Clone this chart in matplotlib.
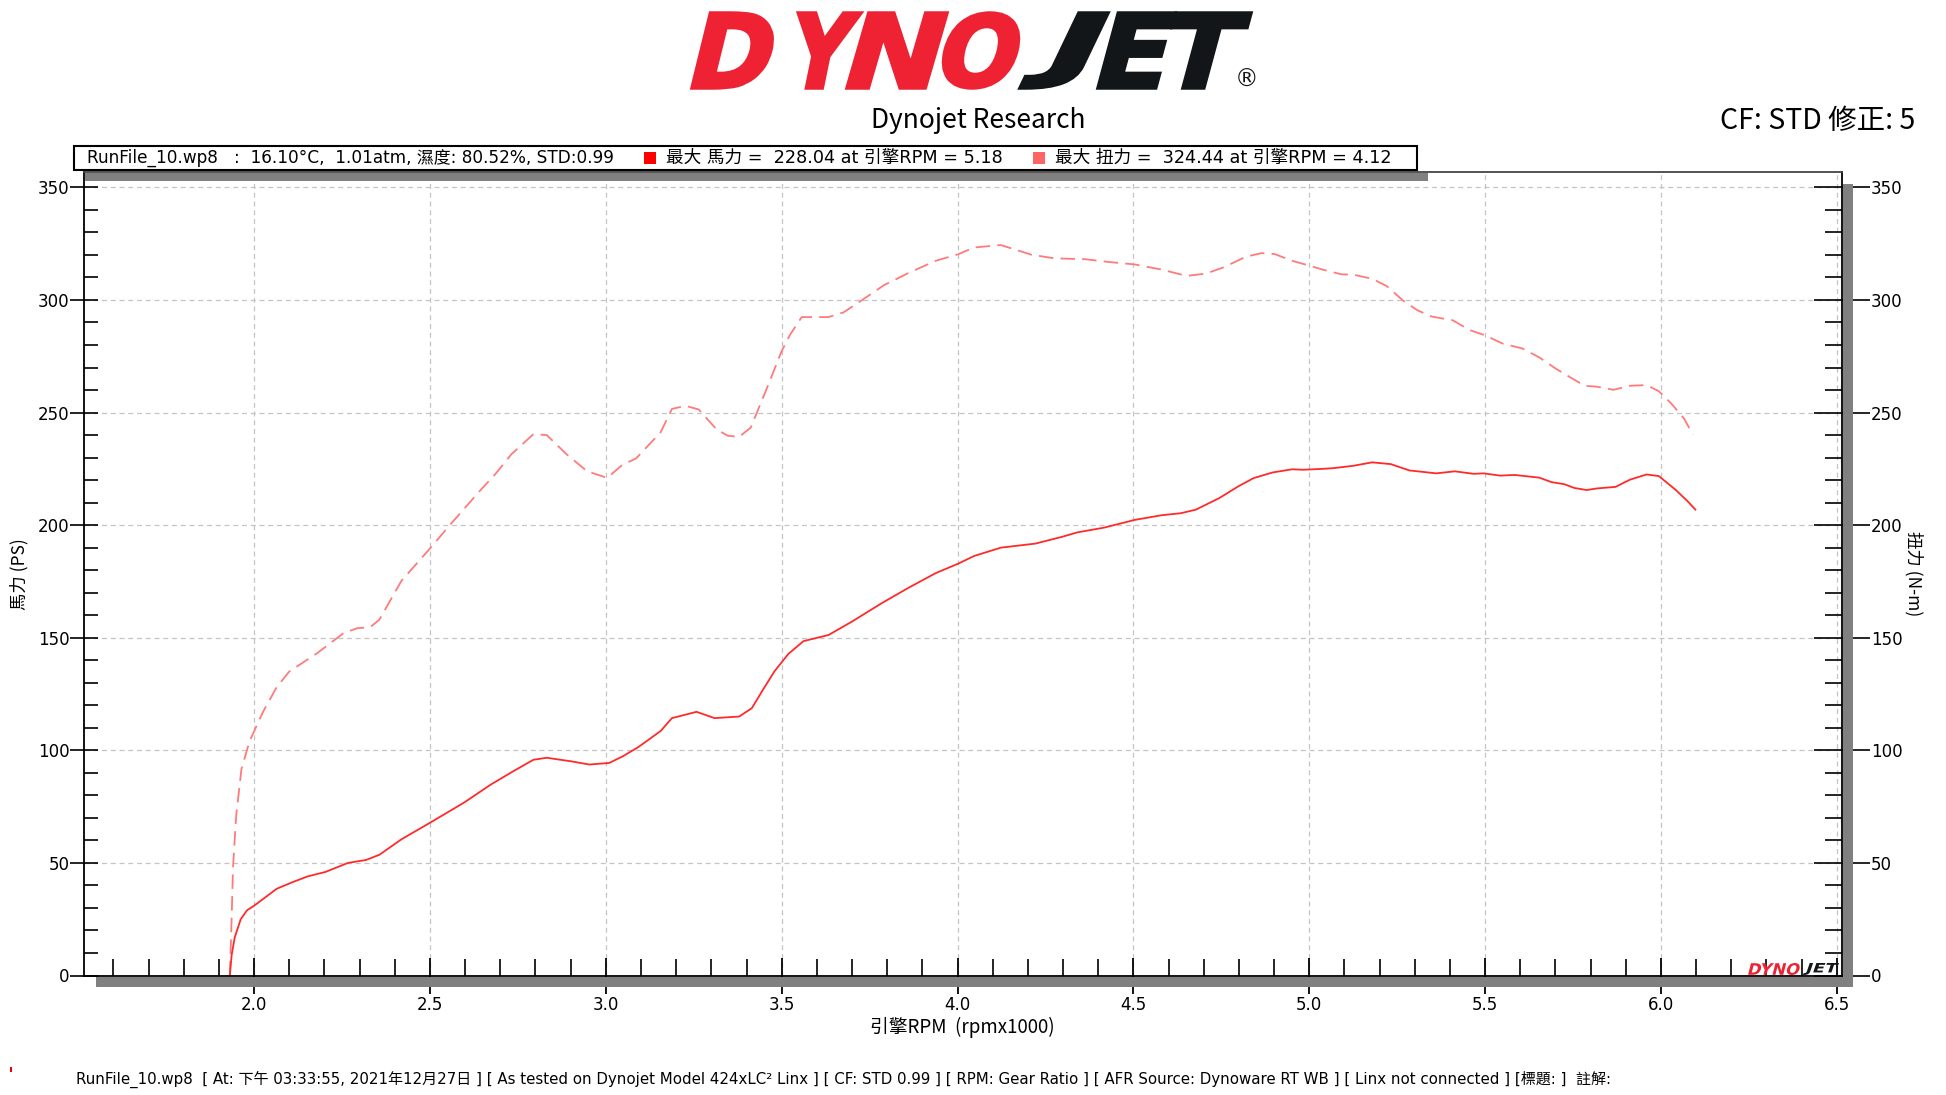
import numpy as np
import matplotlib
matplotlib.use("Agg")
from matplotlib import pyplot as plt
from matplotlib.textpath import TextPath
from matplotlib.font_manager import FontProperties
from matplotlib.patches import PathPatch, Rectangle
from matplotlib.transforms import Affine2D
from matplotlib.ticker import MultipleLocator, FormatStrFormatter

CJK = ['Noto Sans CJK TC', 'DejaVu Sans']
MIX = ['DejaVu Sans', 'Noto Sans CJK TC']

# power curve (PS) vs engine rpm x1000
rpm_hp = [1.931, 1.936, 1.945, 1.962, 1.980, 2.000, 2.030, 2.064, 2.110, 2.152,
          2.203, 2.267, 2.318, 2.356, 2.419, 2.502, 2.597, 2.673, 2.740, 2.794,
          2.832, 2.902, 2.953, 3.010, 3.050, 3.093, 3.156, 3.188, 3.258, 3.309,
          3.379, 3.415, 3.448, 3.480, 3.519, 3.562, 3.633, 3.698, 3.785, 3.862,
          3.938, 4.002, 4.047, 4.123, 4.221, 4.297, 4.341, 4.417, 4.503, 4.580,
          4.635, 4.678, 4.744, 4.798, 4.842, 4.896, 4.951, 4.983, 5.038, 5.068,
          5.127, 5.179, 5.232, 5.285, 5.361, 5.414, 5.467, 5.496, 5.543, 5.584,
          5.654, 5.689, 5.725, 5.754, 5.789, 5.818, 5.871, 5.912, 5.959, 5.994,
          6.041, 6.076, 6.098]
hp = [0, 9, 17, 25, 29, 31, 34.5, 38.5, 41.5, 44,
      46, 50, 51.3, 53.6, 60.5, 68, 76.8, 84.8, 91, 95.8,
      96.7, 95.1, 93.7, 94.4, 97.5, 101.5, 108.6, 114.3, 117.1, 114.3,
      115, 118.7, 127.2, 135.2, 142.8, 148.5, 151.2, 157, 165.4, 172.3,
      178.7, 182.9, 186.3, 190, 191.8, 194.8, 196.8, 198.9, 202.3, 204.4,
      205.3, 206.9, 212, 217.2, 220.9, 223.4, 224.8, 224.6, 225, 225.3,
      226.4, 227.9, 227.1, 224.3, 223, 223.9, 222.8, 223, 222, 222.3,
      221.1, 219.1, 218.2, 216.5, 215.6, 216.3, 217, 220.2, 222.5, 221.8,
      215.8, 210.6, 206.9]

# torque curve (N-m)
rpm_tq = [1.931, 1.936, 1.940, 1.949, 1.964, 1.987, 2.025, 2.064, 2.100, 2.178,
          2.254, 2.292, 2.330, 2.356, 2.419, 2.457, 2.502, 2.559, 2.648, 2.686,
          2.731, 2.794, 2.832, 2.889, 2.947, 3.004, 3.048, 3.086, 3.156, 3.188,
          3.226, 3.264, 3.315, 3.347, 3.379, 3.412, 3.459, 3.500, 3.524, 3.557,
          3.633, 3.676, 3.731, 3.791, 3.862, 3.938, 4.002, 4.047, 4.123, 4.210,
          4.275, 4.363, 4.428, 4.503, 4.580, 4.651, 4.706, 4.755, 4.820, 4.864,
          4.902, 4.951, 4.995, 5.038, 5.091, 5.127, 5.179, 5.220, 5.267, 5.308,
          5.349, 5.408, 5.455, 5.502, 5.549, 5.607, 5.654, 5.701, 5.748, 5.783,
          5.818, 5.865, 5.912, 5.959, 5.994, 6.030, 6.065, 6.091]
tq = [0, 25, 48, 71, 91.7, 104, 117, 128, 135, 143,
      152, 154.2, 154.7, 158, 175.3, 182, 190, 200.5, 216.3, 222.7,
      231.4, 240.4, 240, 231.4, 223.9, 221, 226.9, 229.6, 241.3, 251.6,
      253, 251.4, 242.5, 239.7, 239.2, 243.3, 261.2, 277.3, 284.6, 292.4,
      292.4, 294.5, 300.2, 306.6, 312.1, 317.4, 320.3, 323.3, 324.4, 320.1,
      318.5, 318.1, 316.9, 315.8, 313.5, 310.7, 311.7, 314.4, 319.2, 320.8,
      320.4, 317.4, 315.5, 313.5, 311.4, 311.2, 309.4, 306.2, 299.7, 295.4,
      292.6, 291, 286.7, 284.2, 280.7, 278.4, 274.5, 269.5, 265.1, 261.9,
      261.5, 260.1, 261.9, 262.2, 259.5, 253.9, 247.5, 240.2]

run_info = "RunFile_10.wp8   :  16.10°C,  1.01atm, 濕度: 80.52%, STD:0.99"
hp_info = "最大 馬力 =  228.04 at 引擎RPM = 5.18"
tq_info = "最大 扭力 =  324.44 at 引擎RPM = 4.12"
footer = ("RunFile_10.wp8  [ At: 下午 03:33:55, 2021年12月27日 ] [ As tested on Dynojet Model 424xLC² Linx ] "
          "[ CF: STD 0.99 ] [ RPM: Gear Ratio ] [ AFR Source: Dynoware RT WB ] [ Linx not connected ] [標題: ]  註解:")

W, H = 1946, 1095
fig = plt.figure(figsize=(W / 100, H / 100), dpi=100)
fig.patch.set_facecolor("white")

ax = fig.add_axes([84 / W, 1 - 975.5 / H, (1841.7 - 84) / W, (975.5 - 172.3) / H])
ax.set_xlim(1.5163, 6.514)
ax.set_ylim(0, 356.7)

ax.plot(rpm_tq, tq, color="#ff7b7b", lw=1.3, dashes=(8, 4))
ax.plot(rpm_hp, hp, color="#ff2a2a", lw=1.3)

ax.xaxis.set_major_locator(MultipleLocator(0.5))
ax.xaxis.set_minor_locator(MultipleLocator(0.1))
ax.yaxis.set_major_locator(MultipleLocator(50))
ax.yaxis.set_minor_locator(MultipleLocator(10))
ax.xaxis.set_major_formatter(FormatStrFormatter("%.1f"))
ax.grid(True, which="major", color="#c4c4c4", lw=0.9, ls=(0, (4, 3)))
for s in ax.spines.values():
    s.set_linewidth(1.3)
ax.spines["top"].set_color("#444444")
ax.tick_params(axis="x", which="major", direction="inout", length=26, width=1.3, pad=2, labelsize=12)
ax.tick_params(axis="x", which="minor", direction="in", length=12, width=1.2)
ax.tick_params(axis="y", which="major", direction="inout", length=20, width=1.2, pad=0.5, labelsize=12)
ax.tick_params(axis="y", which="minor", direction="in", length=10, width=1.2)
ax.set_xticks([2.0, 2.5, 3.0, 3.5, 4.0, 4.5, 5.0, 5.5, 6.0, 6.5])

ax2 = ax.twinx()
ax2.set_ylim(ax.get_ylim())
ax2.yaxis.set_major_locator(MultipleLocator(50))
ax2.yaxis.set_minor_locator(MultipleLocator(10))
ax2.tick_params(axis="y", which="major", direction="inout", length=40, width=1.2, pad=1, labelsize=12)
ax2.tick_params(axis="y", which="minor", direction="in", length=12, width=1.2)
for s in ax2.spines.values():
    s.set_visible(False)

# pixel overlay for decorations
ov = fig.add_axes([0, 0, 1, 1], zorder=5)
ov.set_xlim(0, W)
ov.set_ylim(H, 0)
ov.axis("off")
ov.patch.set_alpha(0)

gray = "#808080"
ov.add_patch(Rectangle((85, 173.3), 1428 - 85, 7.7, fc=gray, ec="none"))
ov.add_patch(Rectangle((96, 976.8), 1853 - 96, 10.2, fc=gray, ec="none"))
ov.add_patch(Rectangle((1842.6, 184), 10.4, 803, fc=gray, ec="none"))


def logo(text, x0, y_top, w, h, color, skew=14, stroke=0.0):
    tp = TextPath((0, 0), text, size=100, prop=FontProperties(family="DejaVu Sans", weight="bold"))
    bb = tp.get_extents()
    sk = np.tan(np.radians(skew))
    tr = (Affine2D().translate(-bb.x0, -bb.y0).skew_deg(skew, 0)
          .scale(w / (bb.width + sk * bb.height), -h / bb.height).translate(x0, y_top + h))
    ov.add_patch(PathPatch(tr.transform_path(tp), fc=color, ec=color if stroke else "none",
                           lw=stroke, joinstyle="miter"))


red, black = "#ee2233", "#121619"
big_letters = [("D", 692, 88, red), ("Y", 783, 78, red), ("N", 847, 100, red), ("O", 936, 90, red),
               ("J", 1020, 88, black), ("E", 1098, 78, black), ("T", 1156, 95, black)]
for ch, x0, w, c in big_letters:
    logo(ch, x0, 13, w, 75, c, stroke=2.5)
ov.text(1247, 80, "®", fontsize=17, color=black, ha="center", va="center", family="DejaVu Sans")
logo("DYNO", 1748, 963, 53, 12, red)
logo("JET", 1803, 963, 36, 12, black)

ov.text(978, 121, "Dynojet Research", fontsize=19, ha="center", va="center", family=CJK)
ov.text(1915, 121, "CF: STD 修正: 5", fontsize=20.5, ha="right", va="center", family=CJK)

# legend box
ov.add_patch(Rectangle((74, 145.7), 1417 - 74, 24.3, fc="white", ec="black", lw=1.5))
ov.text(87, 158, run_info, fontsize=12.2, ha="left", va="center", family=MIX)
ov.add_patch(Rectangle((644, 152), 12, 12, fc="#ff0000", ec="none"))
ov.text(666, 158, hp_info, fontsize=12.7, ha="left", va="center", family=MIX)
ov.add_patch(Rectangle((1033, 152), 12, 12, fc="#ff6464", ec="none"))
ov.text(1055, 158, tq_info, fontsize=12.7, ha="left", va="center", family=MIX)

ov.text(19, 574, "馬力 (PS)", fontsize=12.5, rotation=90, ha="center", va="center", family=CJK)
ov.text(1914, 574, "扭力 (N-m)", fontsize=12.5, rotation=270, ha="center", va="center", family=CJK)
ov.text(962, 1027, "引擎RPM  (rpmx1000)", fontsize=13.5, ha="center", va="center", family=CJK)

ov.add_patch(Rectangle((9.5, 1067), 2.5, 5, fc="#ee0000", ec="none"))
ov.text(76, 1079, footer, fontsize=10.8, ha="left", va="center", family=MIX)

fig.savefig("out.png", dpi=100)
